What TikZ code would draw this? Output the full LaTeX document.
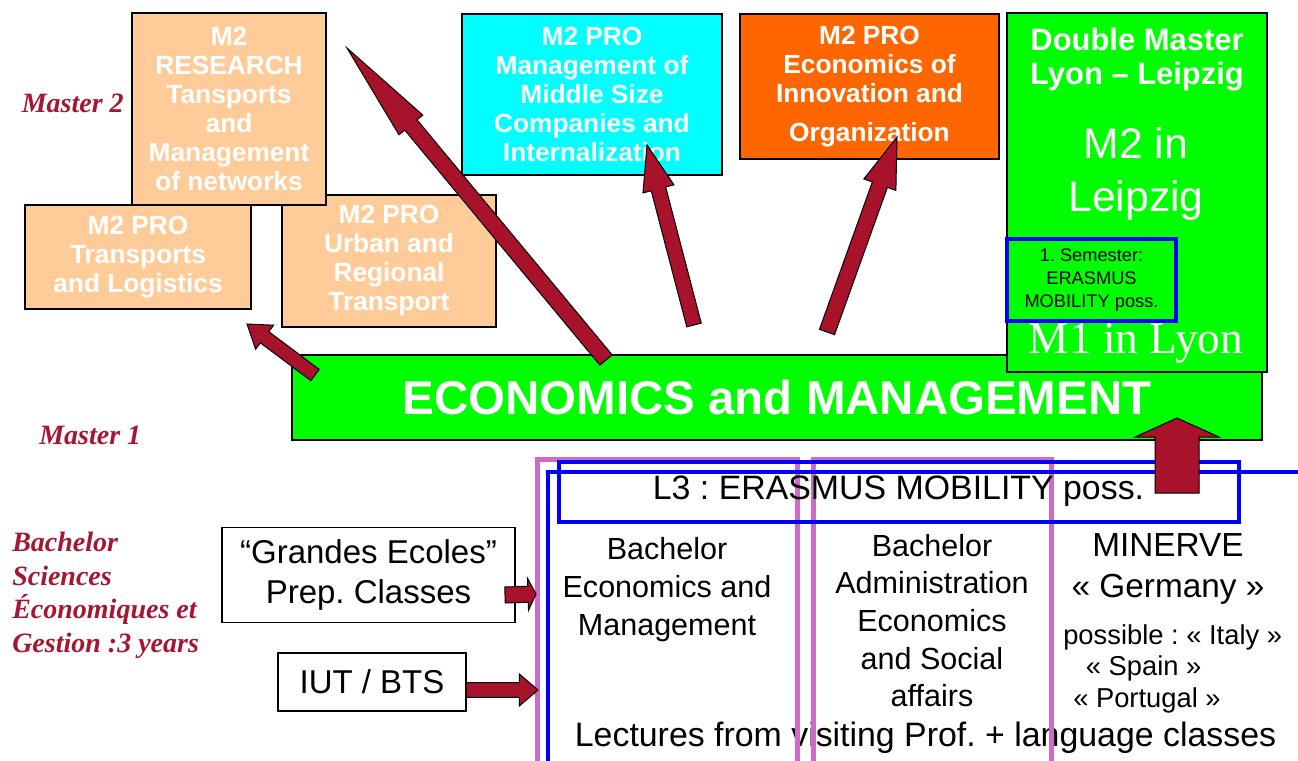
\documentclass[tikz,border=0pt]{standalone}
\usepackage{fontspec}
\setmainfont{Liberation Sans}
\newfontfamily\timesfont{Liberation Serif}
\usetikzlibrary{calc}
\frenchspacing

\definecolor{peach}{RGB}{255,204,153}
\definecolor{mgmtcyan}{RGB}{0,255,255}
\definecolor{innovorange}{RGB}{255,102,0}
\definecolor{ecogreen}{RGB}{0,255,0}
\definecolor{arrowred}{RGB}{168,18,42}
\definecolor{levelred}{RGB}{165,22,50}
\definecolor{orchidline}{RGB}{204,108,200}
\definecolor{erasmusblue}{RGB}{0,0,255}

\tikzset{
  m2box/.style={draw=black, line width=1pt, inner sep=0pt, align=center, text=white,
    font=\bfseries\fontsize{19.7}{21.75}\selectfont},
  level/.style={text=levelred, inner sep=0pt, font=\timesfont\bfseries\itshape\fontsize{21}{25.1}\selectfont},
  entrybox/.style={draw=black, line width=0.8pt, fill=white, align=center, inner sep=0pt,
    font=\fontsize{24.75}{30}\selectfont},
  coltext/.style={align=center, inner sep=0pt, font=\fontsize{22.9}{28.2}\selectfont},
  fatarrow/.style={fill=arrowred, draw=black, line width=0.75pt, line join=miter}
}

% block arrow: tail, tip, half shaft, half head, head length
\newcommand{\fatarrow}[5]{%
  \coordinate (fa-h) at ($(#2)!#5!(#1)$);
  \draw[fatarrow] ($(#1)!#3!90:(#2)$) -- ($(fa-h)!#3!90:(#2)$) -- ($(fa-h)!#4!90:(#2)$) -- (#2)
    -- ($(fa-h)!#4!-90:(#2)$) -- ($(fa-h)!#3!-90:(#2)$) -- ($(#1)!#3!-90:(#2)$) -- cycle;
}

\begin{document}
\begin{tikzpicture}[x=0.75pt, y=-0.75pt]
\useasboundingbox (0,0) rectangle (1298,760);

% master 2 courses
\node[m2box, fill=peach, minimum width=160.5pt, minimum height=99pt] (urban) at (389,261) {M2 PRO\\Urban and\\Regional\\Transport};
\node[m2box, fill=peach, minimum width=169.5pt, minimum height=78pt] (logist) at (138,257) {M2 PRO\\Transports\\and Logistics};
\node[m2box, fill=peach, minimum width=145.5pt, minimum height=144pt] (research) at (229,109) {M2\\RESEARCH\\Tansports\\and\\Management\\of networks};
\node[m2box, fill=mgmtcyan, minimum width=195pt, minimum height=120.75pt] (middle) at (592,94.5) {M2 PRO\\Management of\\Middle Size\\Companies and\\Internalization};
\node[m2box, fill=innovorange, minimum width=194.25pt, minimum height=108.75pt] (innov) at (869.5,86.5) {M2 PRO\\Economics of\\Innovation and\\[7.5pt]Organization};

% master 1
\node[m2box, fill=ecogreen, minimum width=727.5pt, minimum height=63.75pt, font=\bfseries\fontsize{35.6}{40}\selectfont] (econ) at (777,397.5) {ECONOMICS and MANAGEMENT};

% double master Lyon - Leipzig
\node[draw=black, line width=1pt, fill=ecogreen, minimum width=195pt, minimum height=269.25pt] (double) at (1137,192.5) {};
\node[m2box, draw=none, font=\bfseries\fontsize{23.2}{25.5}\selectfont] (doubletitle) at (1137,60) {Double Master\\Lyon – Leipzig};
\node[text=white, align=center, inner sep=0pt, font=\fontsize{32}{39.75}\selectfont] (leipzig) at (1136,174) {M2 in\\Leipzig};
\node[draw=erasmusblue, line width=3pt, fill=ecogreen, minimum width=126.75pt, minimum height=61.5pt, align=center, inner sep=0pt, font=\fontsize{13.7}{17.25}\selectfont] (semester) at (1091.5,280) {1. Semester:\\ERASMUS\\MOBILITY poss.};
\node[anchor=base, text=white, inner sep=0pt, font=\timesfont\fontsize{34}{34}\selectfont] (lyon) at (1136,353) {M1 in Lyon};

% levels
\node[level, anchor=base east] (m2lab) at (124,112) {Master 2};
\node[level, anchor=base west] (m1lab) at (39,444) {Master 1};
\node[level, anchor=north west, align=left] (bachlab) at (12,532) {Bachelor\\Sciences\\Économiques et\\Gestion :3 years};

% entries to bachelor
\node[entrybox, minimum width=219.75pt, minimum height=71.25pt] (prep) at (368.5,575) {“Grandes Ecoles”\\Prep. Classes};
\node[entrybox, minimum width=141pt, minimum height=43.5pt] (iut) at (372,682) {IUT / BTS};

% bachelor columns
\node[coltext] (ecobach) at (667,589.5) {Bachelor\\Economics and\\Management};
\node[coltext] (adminbach) at (932,620.5) {Bachelor\\Administration\\Economics\\and Social\\affairs};
\node[coltext, font=\fontsize{25}{30.75}\selectfont] (minerve) at (1168,569) {MINERVE\\« Germany »};
\node[coltext, anchor=north west, align=left, font=\fontsize{20.5}{23.6}\selectfont] (others) at (1063,624) {possible : « Italy »\\\hspace*{17pt}« Spain »\\\hspace*{7.5pt}« Portugal »};
\node[coltext, anchor=base, font=\fontsize{25.4}{30}\selectfont] (visiting) at (925.5,746) {Lectures from visiting Prof. + language classes};

\draw[orchidline, line width=3.75pt] (537,775) -- (537,459) -- (797,459) -- (797,775); % column 1
\draw[orchidline, line width=3.75pt] (813,775) -- (813,459) -- (1051,459) -- (1051,775); % column 2
\draw[erasmusblue, line width=3pt] (548,775) -- (548,472) -- (1310,472);
\node[draw=erasmusblue, line width=3pt, minimum width=510pt, minimum height=45pt, inner sep=0pt, font=\fontsize{25.4}{30}\selectfont] (ltrois) at (898.5,491.5) {L3 : ERASMUS MOBILITY poss.};

% arrows
\coordinate (rs-tail) at (606,360); \coordinate (rs-tip) at (347,48); % to research
\coordinate (md-tail) at (694,325); \coordinate (md-tip) at (647,145); % to middle size
\coordinate (in-tail) at (827,332); \coordinate (in-tip) at (897,137); % to innovation
\coordinate (lg-tail) at (315,375); \coordinate (lg-tip) at (247,324); % to logistics
\coordinate (up-tail) at (1177,493); \coordinate (up-tip) at (1177,418); % L3 to master 1
\coordinate (pr-tail) at (505,595); \coordinate (pr-tip) at (536,594); % prep classes
\coordinate (iu-tail) at (466,690); \coordinate (iu-tip) at (538,690); % IUT

\fatarrow{rs-tail}{rs-tip}{6pt}{11.6pt}{75pt}
\fatarrow{md-tail}{md-tip}{5.6pt}{12pt}{34pt}
\fatarrow{in-tail}{in-tip}{6pt}{12.75pt}{38pt}
\fatarrow{lg-tail}{lg-tip}{5.25pt}{11.25pt}{16.5pt}
\fatarrow{up-tail}{up-tip}{16.5pt}{31.5pt}{14.25pt}
\fatarrow{pr-tail}{pr-tip}{6pt}{12pt}{6pt}
\fatarrow{iu-tail}{iu-tip}{5.6pt}{12pt}{14pt}

\end{tikzpicture}
\end{document}
